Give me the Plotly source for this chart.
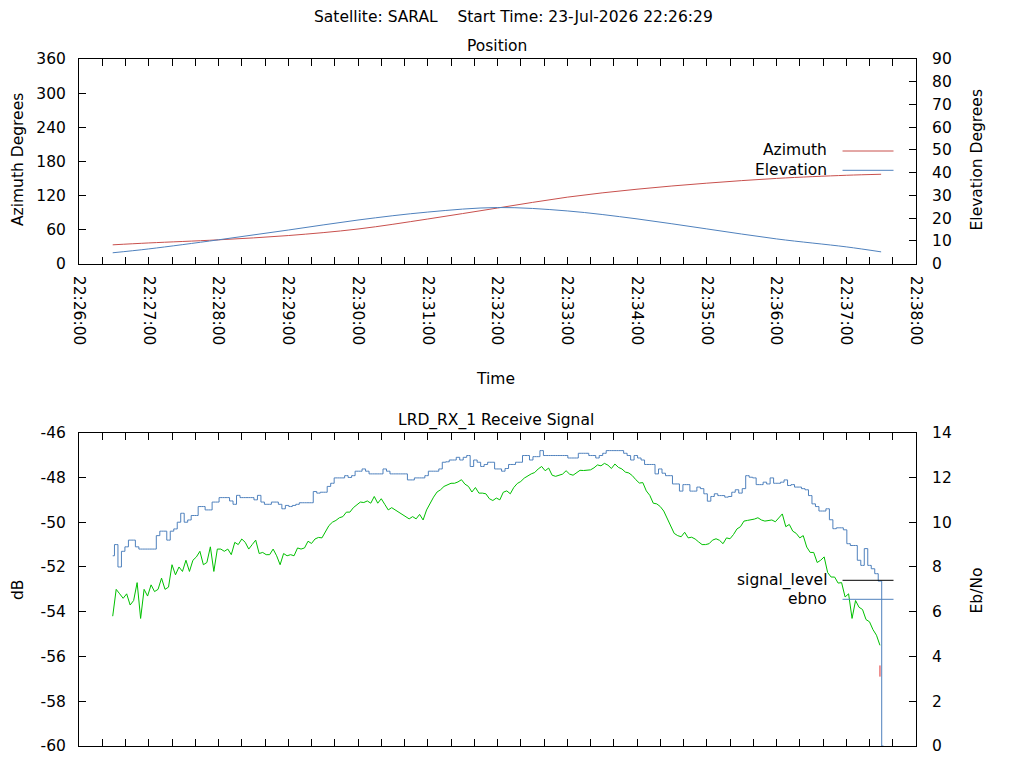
import plotly.graph_objects as go
import pandas as pd

DAY = "2026-07-23 "

# upper panel: antenna position
pos_times = ["22:26:29", "22:27:00", "22:28:00", "22:29:00", "22:30:00", "22:31:00", "22:32:00",
             "22:33:00", "22:34:00", "22:35:00", "22:36:00", "22:37:00", "22:37:30"]
azimuth = [33.2, 36.5, 42.0, 49.5, 61.0, 78.6, 97.9, 117.0, 131.0, 141.6, 150.0, 155.5, 157.3]
elevation = [4.8, 6.5, 10.5, 14.8, 19.2, 22.7, 24.7, 23.2, 19.7, 15.3, 10.9, 7.4, 5.2]

# lower panel: receiver samples, one every 3 s from the start of the pass
rx_start = "22:26:29"
rx_step = "3s"
signal_level = [
    -54.2, -53.0, -53.2, -53.4, -53.2, -53.7, -53.5, -52.7, -54.3, -53.0,
    -53.3, -52.8, -53.1, -53.0, -52.5, -53.0, -52.9, -51.9, -52.35, -52.0,
    -52.2, -51.7, -52.2, -51.7, -51.55, -51.3, -51.9, -51.8, -51.1, -52.2,
    -51.2, -51.2, -51.3, -51.2, -51.45, -50.9, -51.0, -50.75, -50.9, -51.2,
    -51.0, -50.8, -51.4, -51.35, -51.45, -51.45, -51.2, -51.5, -51.9, -51.4,
    -51.5, -51.45, -51.5, -51.15, -51.2, -51.15, -50.85, -50.95, -50.75, -50.68,
    -50.7, -50.44, -50.15, -50.0, -49.92, -49.8, -49.75, -49.55, -49.55, -49.35,
    -49.22, -49.1, -49.12, -49.05, -49.15, -48.85, -49.15, -48.95, -49.2, -49.45,
    -49.35, -49.45, -49.55, -49.65, -49.75, -49.85, -49.75, -49.85, -49.65, -49.9,
    -49.45, -49.15, -48.88, -48.65, -48.55, -48.4, -48.33, -48.26, -48.26, -48.2,
    -48.1, -48.3, -48.4, -48.65, -48.45, -48.7, -48.7, -48.73, -48.95, -49.03,
    -48.92, -49.0, -48.66, -48.6, -48.73, -48.45, -48.27, -48.18, -48.03, -47.93,
    -47.84, -47.78, -47.62, -47.51, -47.7, -47.58, -47.9, -47.95, -47.9, -47.85,
    -47.7, -47.85, -47.9, -47.78, -47.68, -47.69, -47.69, -47.66, -47.57, -47.44,
    -47.48, -47.37, -47.45, -47.6, -47.4, -47.55, -47.62, -47.76, -47.8, -47.92,
    -48.1, -48.25, -48.23, -48.6, -48.8, -49.15, -49.18, -49.3, -49.5, -49.85,
    -50.15, -50.5, -50.6, -50.65, -50.45, -50.7, -50.67, -50.75, -50.88, -51.0,
    -51.0, -50.96, -50.8, -50.74, -50.81, -50.96, -50.7, -50.74, -50.55, -50.3,
    -50.2, -49.95, -49.92, -49.9, -49.86, -49.8, -49.9, -49.95, -49.92, -49.9,
    -49.98, -49.8, -49.63, -50.2, -50.1, -50.4, -50.5, -50.7, -50.6, -51.11,
    -51.35, -51.35, -51.8, -51.7, -51.55, -52.25, -52.45, -52.45, -52.72, -52.7,
    -53.34, -53.2, -54.3, -53.5, -53.8, -53.9, -54.35, -54.45, -54.8, -55.05,
    -55.5,
]
ebno = [
    8.5, 9.0, 8.0, 8.7, 8.9, 9.2, 9.2, 8.9, 8.8, 8.8,
    8.8, 8.8, 8.8, 9.4, 9.6, 9.6, 9.2, 9.6, 9.7, 10.0,
    10.4, 10.0, 10.1, 10.3, 10.3, 10.7, 10.7, 10.55, 10.55, 10.9,
    10.9, 11.1, 11.1, 11.1, 10.95, 10.8, 11.2, 11.1, 11.1, 11.1,
    11.1, 11.0, 11.2, 10.9, 10.8, 10.8, 10.9, 10.9, 10.8, 10.6,
    10.75, 10.7, 10.75, 10.8, 10.87, 10.87, 10.87, 10.87, 11.37, 11.3,
    11.34, 11.34, 11.6, 11.74, 11.98, 11.98, 11.98, 12.08, 12.0, 12.08,
    12.28, 12.28, 12.38, 12.28, 12.16, 12.16, 12.16, 12.16, 12.38, 12.28,
    12.16, 12.16, 12.16, 12.16, 12.16, 11.89, 11.89, 11.98, 11.98, 11.98,
    12.08, 12.28, 12.28, 12.28, 12.38, 12.68, 12.7, 12.78, 12.78, 12.9,
    12.78, 12.9, 12.98, 12.49, 12.78, 12.68, 12.49, 12.58, 12.68, 12.68,
    12.38, 12.38, 12.28, 12.4, 12.58, 12.58, 12.68, 12.68, 12.98, 12.98,
    12.78, 12.93, 12.93, 13.2, 12.98, 12.98, 12.98, 12.98, 12.98, 12.98,
    12.98, 12.87, 12.87, 12.87, 13.08, 13.08, 13.08, 12.98, 12.98, 12.87,
    12.98, 13.08, 13.2, 13.2, 13.2, 13.2, 13.2, 13.08, 12.98, 12.78,
    12.98, 12.87, 12.78, 12.58, 12.58, 12.58, 12.16, 12.38, 12.19, 12.08,
    12.08, 11.71, 11.71, 11.39, 11.68, 11.68, 11.39, 11.39, 11.57, 11.5,
    11.27, 10.94, 11.15, 11.27, 11.19, 11.19, 11.12, 11.15, 11.34, 11.45,
    11.3, 11.5, 12.08, 12.01, 11.98, 11.68, 11.68, 11.79, 11.71, 11.98,
    11.74, 11.74, 11.79, 11.89, 11.64, 11.68, 11.57, 11.57, 11.5, 11.45,
    11.19, 10.82, 10.7, 10.5, 10.5, 10.6, 10.11, 9.71, 9.75, 9.75,
    9.66, 9.04, 8.96, 8.96, 8.3, 8.07, 8.82, 8.07, 7.92, 7.7,
    7.37, 0.0,
]
# last samples after loss of lock
tail_times = ["22:37:29", "22:37:29"]
tail_level = [-56.4, -56.9]

# dB axis labels (plain hyphen, as in the original)
db_ticks = [-60, -58, -56, -54, -52, -50, -48, -46]
db_labels = ["-60", "-58", "-56", "-54", "-52", "-50", "-48", "-46"]

pos_t = pd.to_datetime([DAY + t for t in pos_times])
sig_t = pd.date_range(DAY + rx_start, periods=len(signal_level), freq=rx_step)
ebno_t = pd.date_range(DAY + rx_start, periods=len(ebno), freq=rx_step)
tail_t = pd.to_datetime([DAY + t for t in tail_times])

RED = "#c8504d"
BLUE = "#4f81bd"
GREEN = "#00c000"
FONT = "DejaVu Sans"
FS = 15.5

# the page adds an 8px body margin, so everything is laid out 8px up/left
OFF = 8
L, R = 79 - OFF, 916.5 - OFF
H = 768

fig = go.Figure()
fig.add_trace(go.Scatter(x=pos_t, y=azimuth, mode="lines", line=dict(color=RED, width=1, shape="spline"),
                         xaxis="x", yaxis="y", name="Azimuth"))
fig.add_trace(go.Scatter(x=pos_t, y=elevation, mode="lines", line=dict(color=BLUE, width=1, shape="spline"),
                         xaxis="x", yaxis="y2", name="Elevation"))
fig.add_trace(go.Scatter(x=sig_t, y=signal_level, mode="lines", line=dict(color=GREEN, width=1),
                         xaxis="x2", yaxis="y3", name="signal_level"))
fig.add_trace(go.Scatter(x=ebno_t, y=ebno, mode="lines", line=dict(color=BLUE, width=1, shape="hvh"),
                         xaxis="x2", yaxis="y4", name="ebno"))
fig.add_trace(go.Scatter(x=tail_t, y=tail_level, mode="lines", line=dict(color="#e03030", width=1),
                         xaxis="x2", yaxis="y3", showlegend=False))

t0 = DAY + "22:26:00"
t1 = DAY + "22:38:00"
common_x = dict(type="date", range=[t0, t1], tick0=t0, dtick=60000, ticks="inside", ticklen=7,
                tickcolor="black", showline=True, linecolor="black", linewidth=1, mirror="allticks",
                showgrid=False, zeroline=False,
                minor=dict(dtick=20000, tick0=t0, ticks="inside", ticklen=4, tickcolor="black", showgrid=False))
common_y = dict(ticks="inside", ticklen=7, tickcolor="black", showline=True, linecolor="black",
                linewidth=1, showgrid=False, zeroline=False)


def px_x(px):
    return (px - OFF - L) / (R - L)


def px_y(py):
    return 1 - (py - OFF) / H


TOP = [px_y(263.7), px_y(59)]
BOT = [px_y(746), px_y(432.7)]

fig.update_layout(
    width=1024, height=H,
    margin=dict(l=L, r=1024 - R, t=0, b=0, autoexpand=False),
    paper_bgcolor="white", plot_bgcolor="white",
    font=dict(family=FONT, size=FS, color="black"),
    showlegend=False,
    xaxis=dict(common_x, domain=[0, 1], anchor="y", tickformat="%H:%M:%S", tickangle=90,
               ticklabelstandoff=8),
    yaxis=dict(common_y, domain=TOP, range=[0, 360], dtick=60, anchor="x", ticklabelstandoff=9),
    yaxis2=dict(common_y, range=[0, 90], dtick=10, overlaying="y", side="right", anchor="x",
                ticklabelstandoff=12),
    xaxis2=dict(common_x, domain=[0, 1], anchor="y3", showticklabels=False),
    yaxis3=dict(common_y, domain=BOT, range=[-60, -46], tickvals=db_ticks, ticktext=db_labels,
                anchor="x2", ticklabelstandoff=9),
    yaxis4=dict(common_y, range=[0, 14], dtick=2, overlaying="y3", side="right", anchor="x2",
                ticklabelstandoff=12),
)

texts = [
    ("Satellite: SARAL\u00a0\u00a0\u00a0\u00a0Start Time: 23-Jul-2026 22:26:29", 514, 17, 0, "center"),
    ("Position", 497, 46, 0, "center"),
    ("Time", 496, 379, 0, "center"),
    ("LRD_RX_1 Receive Signal", 496, 420, 0, "center"),
    ("Azimuth Degrees", 18, 160, -90, "center"),
    ("Elevation Degrees", 978, 160, -90, "center"),
    ("dB", 18, 590, -90, "center"),
    ("Eb/No", 978, 590, -90, "center"),
    ("Azimuth", 829, 150, 0, "right"),
    ("Elevation", 829, 170, 0, "right"),
    ("signal_level", 829, 580, 0, "right"),
    ("ebno", 829, 599, 0, "right"),
]
for txt, x, y, ang, anchor in texts:
    fig.add_annotation(text=txt, x=px_x(x), y=px_y(y), xref="paper", yref="paper",
                       xanchor=anchor, yanchor="middle", textangle=ang, showarrow=False,
                       font=dict(family=FONT, size=FS, color="black"))

# legend samples, drawn gnuplot style to the right of the labels
for color, y in [(RED, 151), (BLUE, 170.3), ("black", 580.3), (BLUE, 599.3)]:
    fig.add_shape(type="line", xref="paper", yref="paper", x0=px_x(843), x1=px_x(894),
                  y0=px_y(y), y1=px_y(y), line=dict(color=color, width=1))

fig.write_html("out.html")
